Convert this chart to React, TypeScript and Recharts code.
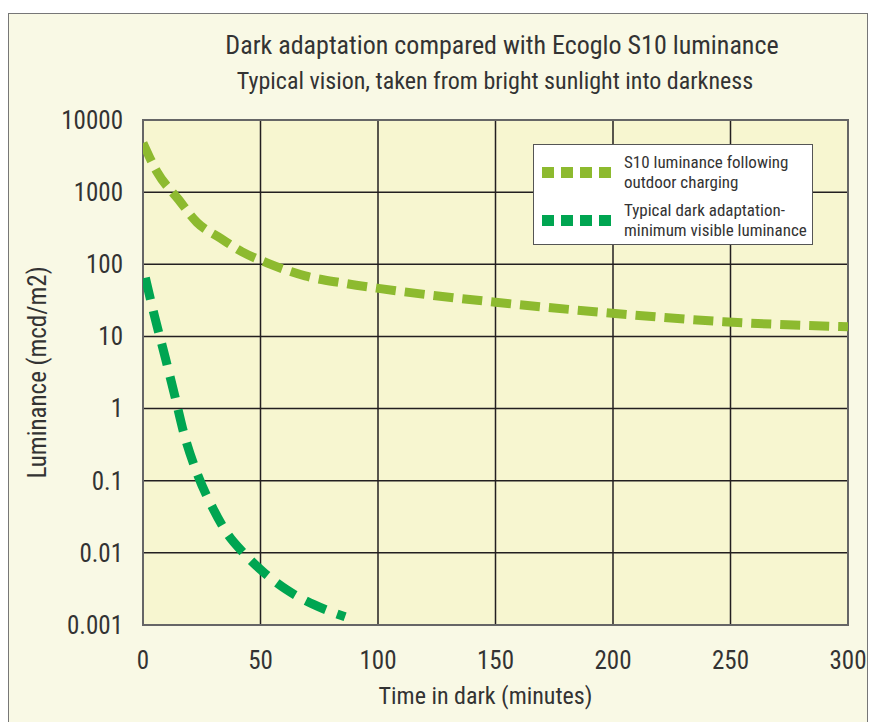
import React from "react";
import {
  CartesianGrid,
  Line,
  LineChart,
  ReferenceArea,
  XAxis,
  YAxis,
} from "recharts";

// values (luminance in mcd/m2, log scale)
const s10Minutes = [0, 6, 15, 23, 33, 42, 53, 69, 85, 101, 149, 196, 247, 300];
const s10Luminance = [4800, 1900, 800, 380, 230, 150, 104, 69, 55, 46, 30, 21.5, 16, 13.6];

const adaptMinutes = [1, 5, 9.4, 13.6, 17.5, 23, 30, 35.6, 43, 51, 61, 73, 86];
const adaptLuminance = [65, 18.6, 5.2, 1.47, 0.44, 0.127, 0.04, 0.019, 0.0098, 0.0055, 0.0031, 0.0019, 0.0013];

const xTicks = [0, 50, 100, 150, 200, 250, 300];
const yTicks = [0.001, 0.01, 0.1, 1, 10, 100, 1000, 10000];

const s10Legend = ["S10 luminance following", "outdoor charging"];
const adaptLegend = ["Typical dark adaptation-", "minimum visible luminance"];

const s10Data = s10Minutes.map((t, i) => ({ t, v: s10Luminance[i] }));
const adaptData = adaptMinutes.map((t, i) => ({ t, v: adaptLuminance[i] }));

const LIGHT = "#8dba2f";
const DARK = "#00a551";
const FONT = "'Liberation Sans Narrow', 'Roboto Condensed', 'DejaVu Sans Condensed', 'Liberation Sans', sans-serif";

function LegendItem({ color, lines }: { color: string; lines: string[] }) {
  return (
    <div style={{ display: "flex", alignItems: "center", height: 48 }}>
      <div style={{ display: "flex", gap: 7, width: 82 }}>
        {[0, 1, 2, 3].map((k) => (
          <div key={k} style={{ width: 12, height: 11, background: color }} />
        ))}
      </div>
      <div style={{ fontSize: 17, lineHeight: "20px", color: "#333" }}>
        {lines.map((l) => (
          <div key={l}>{l}</div>
        ))}
      </div>
    </div>
  );
}

export default function App() {
  return (
    <div style={{ position: "absolute", left: 0, top: 0, width: 869, height: 722, background: "#fff", overflow: "hidden", fontFamily: FONT }}>
      <div
        style={{
          position: "absolute",
          left: 8,
          top: 13,
          width: 858,
          height: 720,
          background: "#f9f9e5",
          border: "1.5px solid #777",
        }}
      />
      <div style={{ position: "absolute", left: 502, top: 30, transform: "translateX(-50%)", whiteSpace: "nowrap", fontSize: 26, color: "#333" }}>
        Dark adaptation compared with Ecoglo S10 luminance
      </div>
      <div style={{ position: "absolute", left: 495, top: 67, transform: "translateX(-50%)", whiteSpace: "nowrap", fontSize: 24, color: "#333" }}>
        Typical vision, taken from bright sunlight into darkness
      </div>
      <div style={{ position: "absolute", left: 0, top: 0 }}>
        <LineChart width={869} height={722} margin={{ top: 120, right: 21, left: 0, bottom: 0 }}>
          <CartesianGrid stroke="#231f20" strokeWidth={1.5} fill="#f7f6d0" fillOpacity={1} />
          <XAxis
            dataKey="t"
            type="number"
            domain={[0, 300]}
            ticks={xTicks}
            allowDataOverflow
            height={97}
            axisLine={false}
            tickLine={false}
            tickSize={0}
            tickMargin={26}
            tick={{ fontSize: 25, fill: "#333", fontFamily: FONT }}
            label={{ value: "Time in dark (minutes)", position: "insideBottom", offset: 18, dx: -10, fontSize: 24, fill: "#333", fontFamily: FONT }}
          />
          <YAxis
            dataKey="v"
            type="number"
            scale="log"
            domain={[0.001, 10000]}
            ticks={yTicks}
            allowDataOverflow
            width={143}
            axisLine={false}
            tickLine={false}
            tickSize={0}
            tickMargin={20}
            tickFormatter={(v: number) => String(v)}
            tick={{ fontSize: 25, fill: "#333", fontFamily: FONT }}
            label={{ value: "Luminance (mcd/m2)", angle: -90, position: "insideLeft", offset: 37, textAnchor: "middle", fontSize: 25, fill: "#333", fontFamily: FONT }}
          />
          <ReferenceArea x1={0} x2={300} y1={0.001} y2={10000} fill="none" fillOpacity={0} stroke="#666" strokeWidth={2} ifOverflow="visible" />
          <Line
            data={s10Data}
            dataKey="v"
            type="monotone"
            stroke={LIGHT}
            strokeWidth={9}
            strokeDasharray="20 9"
            dot={false}
            activeDot={false}
            isAnimationActive={false}
          />
          <Line
            data={adaptData}
            dataKey="v"
            type="monotone"
            stroke={DARK}
            strokeWidth={9}
            strokeDasharray="22 12"
            dot={false}
            activeDot={false}
            isAnimationActive={false}
          />
        </LineChart>
      </div>
      <div
        style={{
          position: "absolute",
          left: 533,
          top: 144,
          width: 270,
          height: 96,
          background: "#fff",
          border: "1.5px solid #555",
          padding: "3px 0 0 8px",
        }}
      >
        <LegendItem color={LIGHT} lines={s10Legend} />
        <LegendItem color={DARK} lines={adaptLegend} />
      </div>
    </div>
  );
}
